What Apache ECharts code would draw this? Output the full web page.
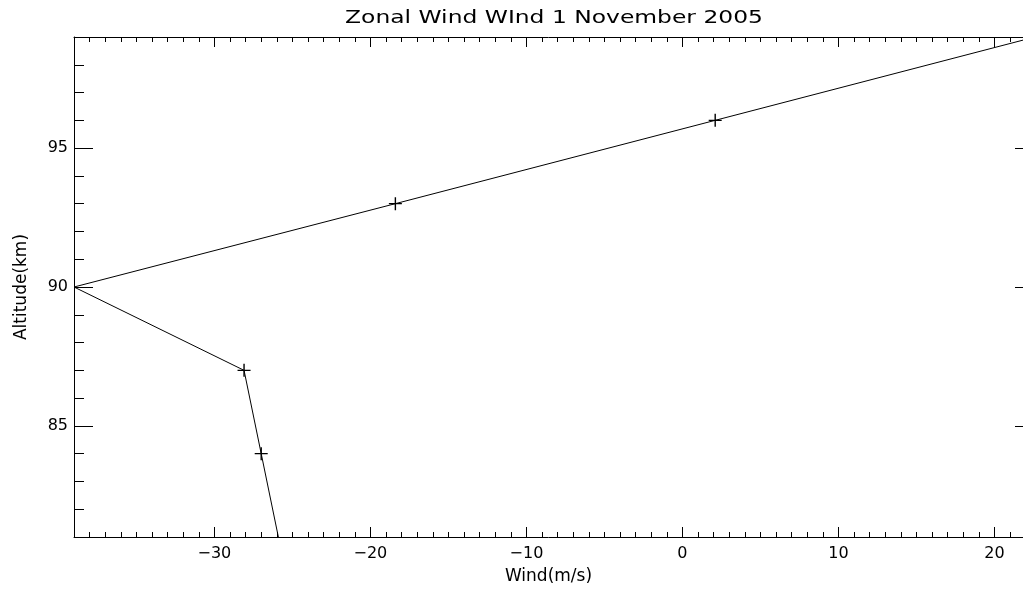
<!DOCTYPE html>
<html>
<head>
<meta charset="utf-8">
<script src="https://cdn.jsdelivr.net/npm/echarts@6/dist/echarts.min.js"></script>
<style>html,body{margin:0;padding:0;background:#fff}#c{width:1023px;height:590px}</style>
</head>
<body>
<div id="c"></div>
<script>
// Data
const altitudes = [81, 84, 87, 90, 93, 96, 99];
const winds = [-25.9, -27.0, -28.1, -39.0, -18.4, 2.1, 22.6];
const markerShown = [false, true, true, false, true, true, false];
const xMajorTicks = [-30, -20, -10, 0, 10, 20];
const yMajorTicks = [85, 90, 95];
const xRange = [-39.0, 21.83];   // visible part of the axis (right edge lies just off the picture)
const yRange = [81, 99];
const titleText = 'Zonal Wind WInd 1 November 2005';
const xName = 'Wind(m/s)';
const yName = 'Altitude(km)';

const xMinorTicks = [];
for (let v = Math.ceil(xRange[0]); v <= Math.floor(xRange[1]); v++) xMinorTicks.push(v);
const yMinorTicks = [];
for (let v = yRange[0]; v <= yRange[1]; v++) yMinorTicks.push(v);

const FONT = 'DejaVu Sans';
const plus = 'path://M-0.7,-6.5h1.4v13h-1.4zM-6.5,-0.7h13v1.4h-13z';
const fmt = v => String(v).replace('-', '\u2212');

function xAx(pos, ticks, len, withLine, withLabel) {
  return {
    type: 'value', position: pos, min: xRange[0], max: xRange[1],
    axisLine: {show: withLine, onZero: false, lineStyle: {color: '#000', width: 1}},
    axisTick: {show: true, inside: true, length: len, customValues: ticks, lineStyle: {color: '#000', width: 1}},
    axisLabel: withLabel ? {show: true, customValues: xMajorTicks, margin: 9, color: '#000', fontFamily: FONT, fontSize: 16, formatter: fmt} : {show: false},
    splitLine: {show: false},
    name: withLabel ? xName : '', nameLocation: 'middle', nameGap: 31,
    nameTextStyle: {color: '#000', fontFamily: FONT, fontSize: 17}
  };
}
function yAx(pos, ticks, len, withLine, withLabel, showTicks) {
  return {
    type: 'value', position: pos, min: yRange[0], max: yRange[1],
    axisLine: {show: withLine, onZero: false, lineStyle: {color: '#000', width: 1}},
    axisTick: {show: showTicks !== false, inside: true, length: len, customValues: ticks, lineStyle: {color: '#000', width: 1}},
    axisLabel: withLabel ? {show: true, customValues: yMajorTicks, margin: 6, color: '#000', fontFamily: FONT, fontSize: 16} : {show: false},
    splitLine: {show: false},
    name: withLabel ? yName : '', nameLocation: 'middle', nameGap: 44,
    nameTextStyle: {color: '#000', fontFamily: FONT, fontSize: 17}
  };
}

const chart = echarts.init(document.getElementById('c'), null, {renderer: 'canvas'});
chart.setOption({
  animation: false,
  backgroundColor: '#fff',
  grid: {left: 74, right: 0, top: 37, bottom: 52, containLabel: false},
  graphic: [{
    type: 'text', x: 554, y: 18, scaleX: 1.3, originX: 0, originY: 0,
    style: {text: titleText, fill: '#000', font: '18px "' + FONT + '"', textAlign: 'center', textVerticalAlign: 'middle'}
  }],
  xAxis: [
    xAx('bottom', xMajorTicks, 10, true, true),
    xAx('bottom', xMinorTicks, 5, false, false),
    xAx('top', xMajorTicks, 10, true, false),
    xAx('top', xMinorTicks, 5, false, false)
  ],
  yAxis: [
    yAx('left', yMajorTicks, 19, true, true),
    yAx('left', yMinorTicks, 10, false, false),
    yAx('right', yMajorTicks, 8, false, false)
  ],
  series: [{
    type: 'line',
    xAxisIndex: 0, yAxisIndex: 0,
    data: altitudes.map((a, i) => ({value: [winds[i], a], symbol: markerShown[i] ? plus : 'none'})),
    symbolSize: 13,
    lineStyle: {color: '#000', width: 1},
    itemStyle: {color: '#000', borderWidth: 0},
    clip: true
  }]
});
</script>
</body>
</html>
